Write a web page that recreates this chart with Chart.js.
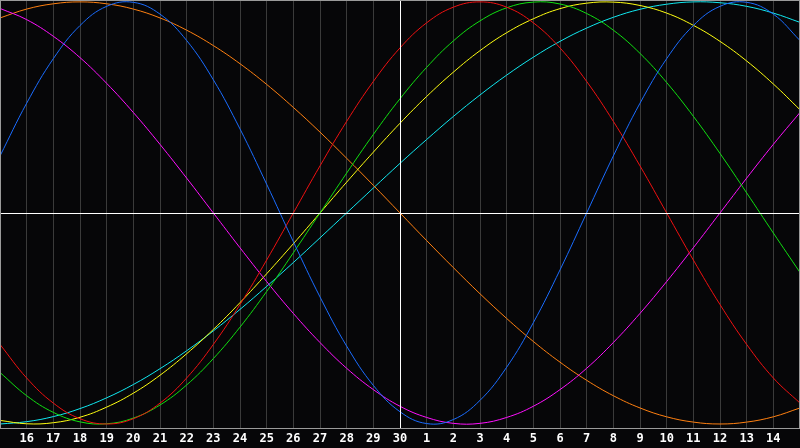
<!DOCTYPE html>
<html><head><meta charset="utf-8">
<script src="https://cdn.jsdelivr.net/npm/chart.js@4/dist/chart.umd.min.js"></script>
<style>html,body{margin:0;padding:0;background:#060608;}#wrap{width:800px;height:448px;}</style>
</head><body><div id="wrap"><canvas id="c" width="800" height="448"></canvas></div>
<script>
// day of month for each point (today = index 15, day 30)
const days = [15,16,17,18,19,20,21,22,23,24,25,26,27,28,29,30,1,2,3,4,5,6,7,8,9,10,11,12,13,14,15];
const tickLabels = ['','16','17','18','19','20','21','22','23','24','25','26','27','28','29','30','1','2','3','4','5','6','7','8','9','10','11','12','13','14',''];
const todayIndex = 15;

const physical     = [0.270,0.520,0.731,0.888,0.979,0.998,0.942,0.817,0.631,0.398,0.136,-0.136,-0.398,-0.631,-0.817,-0.942,-0.998,-0.979,-0.888,-0.731,-0.520,-0.270,0,0.270,0.520,0.731,0.888,0.979,0.998,0.942,0.817];
const emotional    = [-0.623,-0.782,-0.901,-0.975,-1,-0.975,-0.901,-0.782,-0.623,-0.434,-0.223,0,0.223,0.434,0.623,0.782,0.901,0.975,1,0.975,0.901,0.782,0.623,0.434,0.223,0,-0.223,-0.434,-0.623,-0.782,-0.901];
const intellectual = [-0.756,-0.866,-0.945,-0.990,-0.999,-0.972,-0.910,-0.815,-0.690,-0.541,-0.372,-0.189,0,0.189,0.372,0.541,0.690,0.815,0.910,0.972,0.999,0.990,0.945,0.866,0.756,0.618,0.458,0.282,0.095,-0.095,-0.282];
const intuitive    = [0.969,0.916,0.837,0.736,0.614,0.476,0.325,0.165,0,-0.165,-0.325,-0.476,-0.614,-0.736,-0.837,-0.916,-0.969,-0.997,-0.997,-0.969,-0.916,-0.837,-0.736,-0.614,-0.476,-0.325,-0.165,0,0.165,0.325,0.476];
const aesthetic    = [-0.983,-0.999,-0.994,-0.968,-0.920,-0.854,-0.769,-0.667,-0.552,-0.425,-0.288,-0.146,0,0.146,0.288,0.425,0.552,0.667,0.769,0.854,0.920,0.968,0.994,0.999,0.983,0.947,0.889,0.813,0.720,0.611,0.489];
const awareness    = [0.924,0.966,0.991,1,0.991,0.966,0.924,0.866,0.793,0.707,0.609,0.5,0.383,0.259,0.131,0,-0.131,-0.259,-0.383,-0.5,-0.609,-0.707,-0.793,-0.866,-0.924,-0.966,-0.991,-1,-0.991,-0.966,-0.924];
const spiritual    = [-1.000,-0.989,-0.965,-0.927,-0.876,-0.813,-0.738,-0.653,-0.559,-0.457,-0.348,-0.235,-0.118,0,0.118,0.235,0.348,0.457,0.559,0.653,0.738,0.813,0.876,0.927,0.965,0.989,1.000,0.996,0.979,0.947,0.903];

const BG = '#060608';

function ds(label, data, color) {
  return { label, data, borderColor: color, borderWidth: 1, pointRadius: 0, pointHoverRadius: 0, pointHitRadius: 0, tension: 0.4, fill: false };
}

const framePlugin = {
  id: 'frame',
  beforeDraw(chart) {
    const c = chart.ctx;
    c.save();
    c.fillStyle = BG;
    c.fillRect(0, 0, chart.width, chart.height);
    c.restore();
  },
  afterDatasetsDraw(chart) {
    const c = chart.ctx, a = chart.chartArea;
    const xs = chart.scales.x, ys = chart.scales.y;
    c.save();
    c.fillStyle = '#ffffff';
    const tx = Math.round(xs.getPixelForValue(todayIndex));
    c.fillRect(tx, a.top, 1, a.bottom - a.top);
    const zy = Math.round(ys.getPixelForValue(0));
    c.fillRect(a.left, zy, a.right - a.left, 1);
    c.fillStyle = '#9a9a9a';
    c.fillRect(0, 0, chart.width, 1);
    c.fillRect(0, a.bottom, chart.width, 1);
    c.fillRect(0, 0, 1, a.bottom + 1);
    c.fillRect(chart.width - 1, 0, 1, a.bottom + 1);
    c.restore();
  }
};

new Chart(document.getElementById('c'), {
  type: 'line',
  data: {
    labels: days,
    datasets: [
      ds('Physical', physical, '#1a6cff'),
      ds('Emotional', emotional, '#f01010'),
      ds('Intellectual', intellectual, '#10e010'),
      ds('Intuitive', intuitive, '#ff10ff'),
      ds('Aesthetic', aesthetic, '#ffff10'),
      ds('Awareness', awareness, '#ff8010'),
      ds('Spiritual', spiritual, '#10e8f0')
    ]
  },
  options: {
    responsive: false,
    animation: false,
    devicePixelRatio: 1,
    layout: { padding: 0, autoPadding: false },
    plugins: { legend: { display: false }, tooltip: { enabled: false } },
    scales: {
      x: {
        type: 'category',
        offset: false,
        border: { display: false },
        grid: { color: '#3a3a3a', lineWidth: 1, drawTicks: false },
        ticks: {
          autoSkip: false, maxRotation: 0, minRotation: 0, padding: 0,
          color: '#ffffff',
          font: { family: 'DejaVu Sans Mono', size: 12, weight: 'bold', lineHeight: 1.8 },
          callback: (v, i) => tickLabels[i]
        },
        afterFit: (s) => { s.height = 20; s.paddingLeft = 0; s.paddingRight = 0; }
      },
      y: { display: false, min: -1.019, max: 1.009 }
    }
  },
  plugins: [framePlugin]
});
</script>
</body></html>
